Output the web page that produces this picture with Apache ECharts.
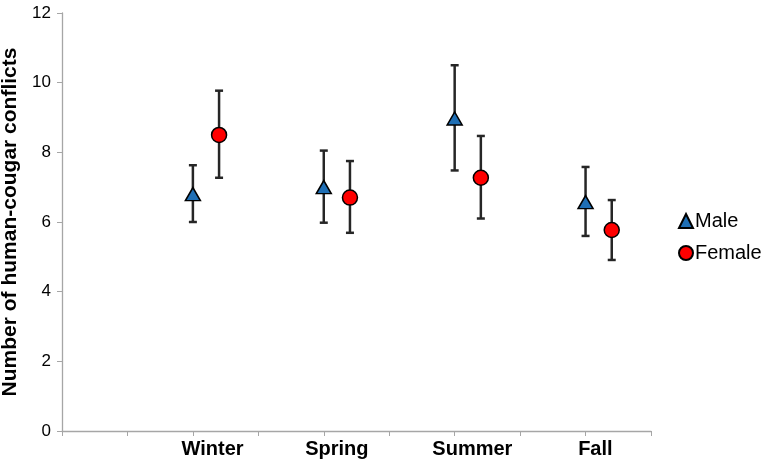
<!DOCTYPE html>
<html>
<head>
<meta charset="utf-8">
<script src="https://cdn.jsdelivr.net/npm/echarts@6/dist/echarts.min.js"></script>
<style>
    html, body { margin: 0; padding: 0; background: #fff; }
    #container { width: 767px; height: 466px; }
</style>
</head>
<body>
<div id="container"></div>
<script>
    // data
    var seasons = ['Winter', 'Spring', 'Summer', 'Fall'];
    var seasonLabelPos = [2.3, 4.2, 6.27, 8.15];
    var maleX = [2, 4, 6, 8];
    var femaleX = [2.4, 4.4, 6.4, 8.4];
    var maleMean = [6.8, 7.0, 8.97, 6.57];
    var maleLow = [6.0, 5.98, 7.48, 5.6];
    var maleHigh = [7.63, 8.05, 10.5, 7.58];
    var femaleMean = [8.5, 6.7, 7.27, 5.77];
    var femaleLow = [7.27, 5.69, 6.1, 4.91];
    var femaleHigh = [9.77, 7.75, 8.47, 6.63];
    var yTicks = [0, 2, 4, 6, 8, 10, 12];

    function pairs(xs, ys) {
        var out = [];
        for (var i = 0; i < xs.length; i++) out.push([xs[i], ys[i]]);
        return out;
    }
    function bars(xs, lo, hi) {
        var out = [];
        for (var i = 0; i < xs.length; i++) out.push([xs[i], lo[i], hi[i]]);
        return out;
    }

    function renderErr(params, api) {
        var lo = api.coord([api.value(0), api.value(1)]);
        var hi = api.coord([api.value(0), api.value(2)]);
        var cap = 4;
        var st = { stroke: '#262626', lineWidth: 2.5 };
        return {
            type: 'group',
            children: [
                { type: 'line', shape: { x1: lo[0], y1: lo[1], x2: hi[0], y2: hi[1] }, style: st },
                { type: 'line', shape: { x1: lo[0] - cap, y1: lo[1], x2: lo[0] + cap, y2: lo[1] }, style: st },
                { type: 'line', shape: { x1: hi[0] - cap, y1: hi[1], x2: hi[0] + cap, y2: hi[1] }, style: st }
            ]
        };
    }

    var myChart = echarts.init(document.getElementById('container'));
    var option = {
        animation: false,
        grid: { left: 62, right: 116, top: 13, bottom: 35, outerBoundsMode: 'none', containLabel: false },
        legend: {
            data: ['Male', 'Female'],
            orient: 'vertical',
            left: 678,
            top: 211,
            padding: 0,
            itemWidth: 14,
            itemHeight: 14,
            itemGap: 12,
            textStyle: { fontFamily: 'Liberation Sans, Arial', fontSize: 20, color: '#000', padding: [0, 0, 0, -3] }
        },
        xAxis: [{
            type: 'value',
            min: 0,
            max: 9,
            interval: 1,
            axisLine: { lineStyle: { color: '#a6a6a6', width: 1.3 } },
            axisTick: { show: true, length: 5, lineStyle: { color: '#a6a6a6' } },
            axisLabel: { show: false },
            splitLine: { show: false }
        }, {
            type: 'value',
            position: 'bottom',
            min: 0,
            max: 9,
            axisLine: { show: false },
            axisTick: { show: false },
            splitLine: { show: false },
            axisLabel: {
                customValues: seasonLabelPos,
                formatter: function (v) {
                    var i = seasonLabelPos.indexOf(v);
                    return i >= 0 ? seasons[i] : '';
                },
                margin: 8,
                fontFamily: 'Liberation Sans, Arial',
                fontWeight: 'bold',
                fontSize: 20,
                color: '#000'
            }
        }],
        yAxis: {
            type: 'value',
            min: 0,
            max: 12,
            interval: 2,
            name: 'Number of human-cougar conflicts',
            nameLocation: 'middle',
            nameGap: 34,
            nameTextStyle: { fontFamily: 'Liberation Sans, Arial', fontWeight: 'bold', fontSize: 21, color: '#000' },
            axisLine: { show: true, lineStyle: { color: '#a6a6a6', width: 1.3 } },
            axisTick: { show: true, length: 5, lineStyle: { color: '#a6a6a6' } },
            axisLabel: {
                margin: 11,
                fontFamily: 'Liberation Sans, Arial',
                fontSize: 17,
                color: '#000',
                formatter: function (v) { return yTicks.indexOf(v) >= 0 ? String(v) : ''; }
            },
            splitLine: { show: false }
        },
        series: [{
            type: 'custom',
            name: 'maleErr',
            renderItem: renderErr,
            data: bars(maleX, maleLow, maleHigh),
            encode: { x: 0, y: [1, 2] },
            z: 1
        }, {
            type: 'custom',
            name: 'femaleErr',
            renderItem: renderErr,
            data: bars(femaleX, femaleLow, femaleHigh),
            encode: { x: 0, y: [1, 2] },
            z: 1
        }, {
            type: 'scatter',
            name: 'Male',
            symbol: 'triangle',
            symbolSize: [15, 13],
            data: pairs(maleX, maleMean),
            itemStyle: { color: '#1f6fb5', borderColor: '#000', borderWidth: 1.5, opacity: 1 },
            z: 5
        }, {
            type: 'scatter',
            name: 'Female',
            symbol: 'circle',
            symbolSize: 15,
            data: pairs(femaleX, femaleMean),
            itemStyle: { color: '#ff0000', borderColor: '#000', borderWidth: 1.5, opacity: 1 },
            z: 5
        }]
    };
    myChart.setOption(option);
</script>
</body>
</html>
